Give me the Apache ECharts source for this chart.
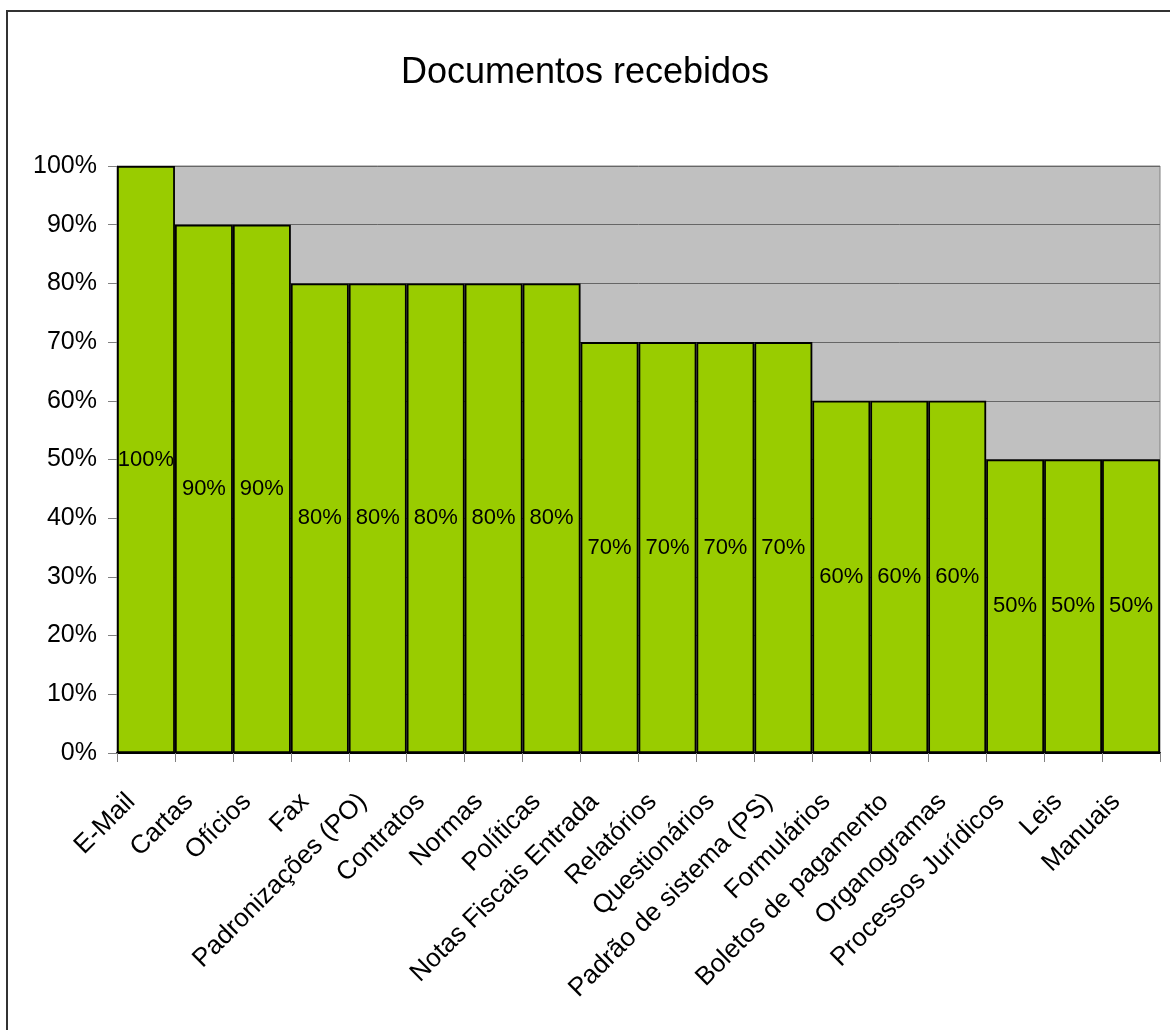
<!DOCTYPE html>
<html>
<head>
<meta charset="utf-8">
<script src="https://cdn.jsdelivr.net/npm/echarts@6/dist/echarts.min.js"></script>
<style>
  html, body { margin: 0; padding: 0; background: #fff; }
  #chart { width: 1170px; height: 1030px; }
</style>
</head>
<body>
<div id="chart"></div>
<script>
const categories = [
  "E-Mail", "Cartas", "Ofícios", "Fax", "Padronizações (PO)", "Contratos",
  "Normas", "Políticas", "Notas Fiscais Entrada", "Relatórios", "Questionários",
  "Padrão de sistema (PS)", "Formulários", "Boletos de pagamento", "Organogramas",
  "Processos Jurídicos", "Leis", "Manuais"
];
const percentValues = [100, 90, 90, 80, 80, 80, 80, 80, 70, 70, 70, 70, 60, 60, 60, 50, 50, 50];

const font = "'Liberation Sans', Arial, sans-serif";

const chart = echarts.init(document.getElementById("chart"));
chart.setOption({
  animation: false,
  backgroundColor: "#fff",
  title: {
    text: "Documentos recebidos",
    left: "center",
    top: 50,
    textStyle: { fontFamily: font, fontSize: 36, fontWeight: "normal", color: "#000" },
  },
  graphic: [
    {
      type: "rect",
      shape: { x: 7, y: 11, width: 1200, height: 1100 },
      style: { fill: "none", stroke: "#333", lineWidth: 2 },
    },
  ],
  grid: {
    left: 117,
    right: 10,
    top: 166,
    bottom: 277,
    show: true,
    backgroundColor: "#c0c0c0",
    borderColor: "#808080",
    borderWidth: 1,
  },
  xAxis: {
    type: "category",
    data: categories,
    axisLine: { lineStyle: { color: "#000", width: 2 } },
    axisTick: { show: true, length: 9, lineStyle: { color: "#808080" } },
    axisLabel: {
      rotate: 45,
      interval: 0,
      margin: 30,
      padding: [0, 21, 0, 0],
      color: "#000",
      fontFamily: font,
      fontSize: 26,
    },
  },
  yAxis: {
    type: "value",
    min: 0,
    max: 100,
    interval: 10,
    axisLine: { show: true, lineStyle: { color: "#808080" } },
    axisTick: { show: true, length: 9, lineStyle: { color: "#808080" } },
    axisLabel: {
      formatter: "{value}%",
      margin: 20,
      color: "#000",
      fontFamily: font,
      fontSize: 25,
    },
    splitLine: { lineStyle: { color: "#666", width: 1 } },
  },
  series: [
    {
      type: "bar",
      data: percentValues,
      barCategoryGap: "0%",
      itemStyle: { color: "#99cc00", borderColor: "#000", borderWidth: 1.8 },
      label: {
        show: true,
        position: "inside",
        formatter: "{c}%",
        color: "#000",
        fontFamily: font,
        fontSize: 22,
      },
    },
  ],
});
</script>
</body>
</html>
